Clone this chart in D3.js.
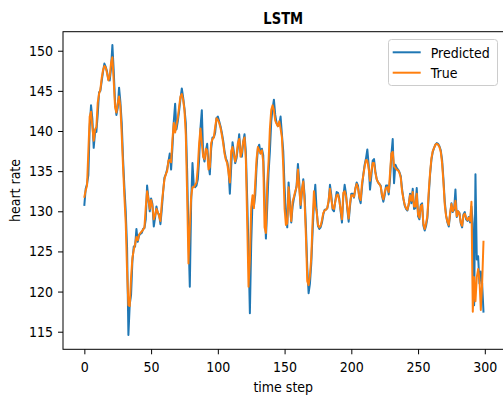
<!DOCTYPE html>
<html>
<head>
<meta charset="utf-8">
<script src="https://cdn.jsdelivr.net/npm/d3@7"></script>
<style>
  body { margin: 0; background: #fff; }
  text { font-family: "DejaVu Sans", sans-serif; fill: #000; }
</style>
</head>
<body>
<script>
// Values, one per time step (0..299)
var trueRate = [
  131.8, 132.6, 133.2, 137.5, 141.8, 142.4, 140.5, 138.8, 140.2, 140.5,
  143.5, 144.6, 145.2, 146.6, 147.6, 148.1, 147.9, 147.2, 146.3, 146.8,
  148.5, 149.2, 146.2, 143.0, 142.3, 143.4, 144.3, 143.0, 139.5, 135.5,
  131.8, 128.5, 122.5, 118.3, 118.2, 121.8, 124.2, 125.2, 125.9, 126.8,
  126.4, 127.1, 127.3, 127.5, 127.7, 128.0, 130.5, 132.5, 131.5, 130.3,
  131.4, 130.6, 129.0, 129.5, 130.3, 129.9, 129.4, 128.8, 131.0, 132.5,
  134.0, 134.6, 135.0, 136.3, 136.4, 136.1, 139.0, 141.0, 139.8, 140.8,
  141.6, 143.0, 144.3, 144.6, 143.9, 142.6, 139.5, 132.0, 123.5, 128.0,
  131.8, 133.0, 133.0, 133.3, 133.6, 135.5, 138.5, 140.3, 138.5, 136.8,
  136.5, 137.8, 137.6, 135.2, 135.5, 138.5, 139.0, 139.2, 140.5, 141.6,
  141.4, 141.0, 140.4, 139.5, 138.5, 137.2, 136.4, 136.0, 134.8, 133.6,
  137.5, 138.0, 137.0, 136.2, 137.0, 138.5, 139.0, 136.8, 137.4, 138.7,
  139.2, 136.4, 128.5, 120.6, 124.0, 130.5, 132.0, 130.4, 133.5, 136.5,
  138.0, 137.6, 137.2, 137.6, 136.2, 128.0, 127.3, 133.5, 136.2, 140.3,
  142.6, 143.2, 142.6, 141.3, 140.9, 140.6, 141.2, 140.3, 139.2, 135.6,
  130.3, 128.3, 128.5, 133.0, 130.5, 128.8, 131.2, 131.8, 132.5, 133.0,
  135.2, 132.8, 130.8, 132.8, 133.7, 131.2, 126.8, 121.3, 120.8, 122.0,
  124.3, 128.8, 132.5, 130.6, 130.0, 128.3, 128.0, 128.2, 128.9, 129.8,
  130.1, 130.2, 130.4, 131.4, 132.8, 131.5, 130.4, 130.3, 131.2, 132.0,
  132.1, 131.3, 130.2, 129.0, 132.3, 132.5, 131.9, 130.5, 129.1, 131.0,
  132.0, 132.0, 131.8, 132.8, 133.4, 132.9, 131.8, 131.4, 133.5, 134.5,
  135.6, 136.4, 136.3, 135.3, 133.8, 135.0, 136.0, 136.0, 134.8, 134.0,
  133.6, 133.4, 133.1, 132.0, 131.5, 132.4, 132.9, 133.0, 132.4, 134.8,
  137.2, 137.4, 135.6, 135.4, 135.2, 135.1, 134.8, 134.2, 132.5, 131.6,
  130.8, 130.4, 130.2, 130.9, 132.0, 131.3, 132.4, 130.6, 130.6, 132.2,
  129.6, 129.2, 130.6, 130.8, 128.4, 127.8, 128.5, 129.5, 132.5, 134.8,
  136.6, 137.5, 137.9, 138.3, 138.4, 138.3, 138.0, 137.4, 136.0, 133.6,
  130.8, 129.4, 128.7, 128.3, 129.8, 130.9, 130.0, 130.4, 131.3, 129.4,
  130.0, 129.7, 128.6, 128.2, 129.5, 129.7, 129.2, 128.9, 129.2, 128.8,
  131.2, 117.5, 121.8, 118.8, 121.8, 122.8, 121.5, 117.7, 121.0, 126.2
];

var predictedRate = [
  130.8, 132.8, 133.4, 134.5, 140.5, 143.2, 141.5, 137.9, 139.8, 139.9,
  142.0, 144.8, 145.0, 146.2, 147.4, 148.4, 148.0, 147.4, 146.4, 146.3,
  147.8, 150.7, 147.5, 143.6, 142.0, 142.9, 145.4, 143.6, 141.0, 136.5,
  133.0, 130.0, 125.5, 114.6, 118.4, 119.6, 123.8, 125.6, 125.6, 127.8,
  126.2, 127.0, 127.2, 127.3, 127.8, 127.9, 129.0, 133.2, 131.6, 130.0,
  131.6, 130.9, 128.1, 129.2, 130.6, 129.8, 129.6, 128.4, 130.2, 132.4,
  134.2, 134.6, 135.2, 136.2, 137.2, 135.2, 138.0, 141.2, 143.4, 140.2,
  141.2, 142.5, 144.0, 145.3, 144.2, 142.8, 141.0, 135.0, 127.0, 120.6,
  131.0, 136.0, 133.2, 133.0, 133.2, 134.0, 136.5, 140.4, 142.6, 137.0,
  136.2, 137.5, 138.4, 135.8, 134.6, 137.8, 139.2, 139.2, 139.8, 141.6,
  141.8, 141.2, 140.6, 139.8, 138.8, 137.5, 136.6, 136.2, 135.2, 132.2,
  135.5, 138.6, 137.4, 136.0, 136.6, 138.0, 139.6, 137.4, 136.8, 138.6,
  139.6, 137.4, 131.5, 125.0, 117.3, 126.0, 131.5, 130.6, 132.0, 135.5,
  137.8, 138.3, 137.2, 137.8, 137.0, 132.0, 126.6, 130.5, 134.8, 137.5,
  141.2, 142.8, 143.9, 142.0, 141.0, 140.6, 140.8, 141.8, 139.6, 137.5,
  133.0, 129.6, 128.0, 133.6, 131.2, 128.6, 130.6, 131.6, 132.3, 133.2,
  135.9, 133.6, 130.4, 132.4, 134.0, 132.0, 128.0, 123.0, 119.8, 121.0,
  123.5, 127.5, 131.0, 133.3, 130.2, 128.2, 127.8, 128.0, 128.6, 129.6,
  130.2, 130.2, 130.4, 131.2, 133.3, 132.0, 130.2, 130.0, 131.3, 132.4,
  132.3, 131.6, 130.0, 128.6, 131.8, 133.3, 132.2, 130.2, 128.7, 130.6,
  132.2, 132.2, 131.7, 132.8, 133.6, 133.2, 131.6, 131.0, 133.0, 134.6,
  135.8, 136.6, 137.7, 135.8, 132.7, 134.4, 136.3, 136.5, 135.0, 134.0,
  133.6, 133.4, 133.2, 131.9, 131.2, 132.0, 133.2, 133.2, 132.1, 134.0,
  137.0, 139.0, 133.5, 135.8, 135.4, 135.2, 134.9, 134.4, 132.8, 131.6,
  130.7, 130.3, 130.1, 130.8, 132.2, 131.0, 132.8, 130.3, 130.4, 132.9,
  129.4, 129.0, 130.8, 131.0, 128.2, 127.6, 128.2, 129.2, 132.0, 134.6,
  136.4, 137.4, 137.9, 138.3, 138.5, 138.4, 138.1, 137.6, 136.4, 134.0,
  131.2, 129.5, 128.6, 128.1, 129.6, 131.0, 129.9, 130.2, 132.7, 129.3,
  130.0, 129.8, 128.5, 128.0, 129.6, 129.9, 129.0, 128.8, 129.3, 128.6,
  130.6, 128.5, 118.3, 134.6, 124.0, 124.4, 121.0, 122.5, 121.0, 117.5
];

var xTicks = [0, 50, 100, 150, 200, 250, 300];
var yTicks = [115, 120, 125, 130, 135, 140, 145, 150];
var seriesNames = ["Predicted", "True"];
var seriesColors = ["#1f77b4", "#ff7f0e"];

var W = 503, H = 397;
// axes box in pixels
var box = {left: 63, right: 503.5, top: 31.7, bottom: 349.3};
// text in the picture is a bit narrower than plain DejaVu
var squeeze = "scale(0.9,1)";

var svg = d3.select("body").append("svg")
    .attr("width", W)
    .attr("height", H)
    .style("display", "block");

svg.append("rect")
    .attr("width", W).attr("height", H)
    .attr("fill", "#fff");

var xScale = d3.scaleLinear().domain([-16, 314]).range([box.left, box.right]);
var yScale = d3.scaleLinear().domain([112.81, 152.37])
    .range([box.bottom, box.top]);

var line = d3.line()
    .x(function(d, i) { return xScale(i); })
    .y(function(d) { return yScale(d); });

// clip to the axes so nothing spills over the frame
svg.append("clipPath").attr("id", "plot")
  .append("rect")
    .attr("x", box.left).attr("y", box.top)
    .attr("width", box.right - box.left)
    .attr("height", box.bottom - box.top);

var plot = svg.append("g").attr("clip-path", "url(#plot)");

[predictedRate, trueRate].forEach(function(values, k) {
    plot.append("path")
        .datum(values)
        .attr("fill", "none")
        .attr("stroke", seriesColors[k])
        .attr("stroke-width", 2)
        .attr("stroke-linejoin", "round")
        .attr("stroke-linecap", "square")
        .attr("d", line);
});

// axes
var xAxis = d3.axisBottom(xScale)
    .tickValues(xTicks)
    .tickSize(5)
    .tickPadding(7.4)
    .tickSizeOuter(0);

var yAxis = d3.axisLeft(yScale)
    .tickValues(yTicks)
    .tickSize(5)
    .tickPadding(6.1)
    .tickSizeOuter(0);

var gx = svg.append("g")
    .attr("transform", "translate(0," + box.bottom + ")")
    .call(xAxis);
var gy = svg.append("g")
    .attr("transform", "translate(" + box.left + ",0)")
    .call(yAxis);

[gx, gy].forEach(function(g) {
    g.select(".domain").remove();
    g.selectAll("line").attr("stroke", "#000").attr("stroke-width", 1);
    g.selectAll("text")
        .attr("font-family", "DejaVu Sans, sans-serif")
        .attr("font-size", 14)
        .attr("fill", "#000")
        .attr("transform", squeeze);
});

// frame
svg.append("rect")
    .attr("x", box.left).attr("y", box.top)
    .attr("width", box.right - box.left)
    .attr("height", box.bottom - box.top)
    .attr("fill", "none")
    .attr("stroke", "#000")
    .attr("stroke-width", 1);

// title and axis labels
svg.append("text")
    .attr("transform", "translate(" + ((box.left + box.right) / 2) +
          ",24) scale(0.82,1)")
    .attr("text-anchor", "middle")
    .attr("font-size", 16)
    .attr("font-weight", "bold")
    .text("LSTM");

svg.append("text")
    .attr("transform", "translate(" + ((box.left + box.right) / 2) +
          ",391.5) " + squeeze)
    .attr("text-anchor", "middle")
    .attr("font-size", 14)
    .text("time step");

svg.append("text")
    .attr("transform", "translate(20," + ((box.top + box.bottom) / 2) +
          ") rotate(-90) " + squeeze)
    .attr("text-anchor", "middle")
    .attr("font-size", 14)
    .text("heart rate");

// legend
var legend = svg.append("g");
legend.append("rect")
    .attr("x", 388.5).attr("y", 39.5)
    .attr("width", 109).attr("height", 46)
    .attr("rx", 3)
    .attr("fill", "#fff").attr("fill-opacity", 0.8)
    .attr("stroke", "#cccccc").attr("stroke-width", 1);

seriesNames.forEach(function(name, k) {
    var yy = 52.3 + k * 20.4;
    legend.append("line")
        .attr("x1", 392.7).attr("x2", 420.7)
        .attr("y1", yy).attr("y2", yy)
        .attr("stroke", seriesColors[k])
        .attr("stroke-width", 2);
    legend.append("text")
        .attr("transform", "translate(430.7," + (yy + 5.5) + ") " + squeeze)
        .attr("font-size", 14)
        .text(name);
});
</script>
</body>
</html>
